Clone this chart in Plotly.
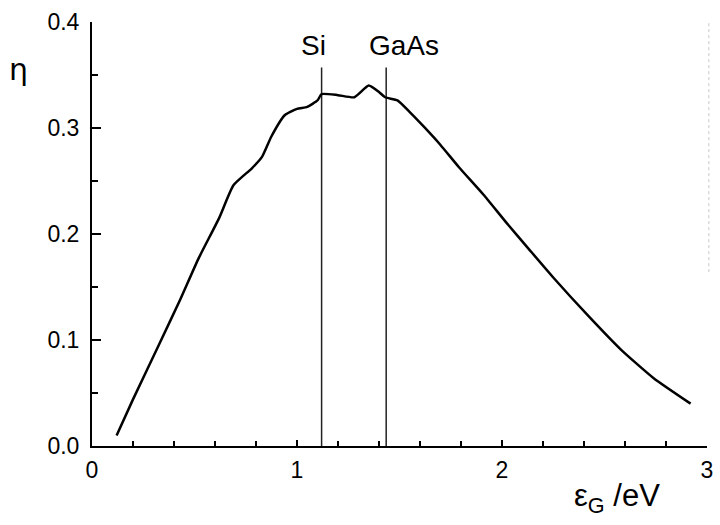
import plotly.graph_objects as go

# Efficiency curve eta vs band gap energy
eg = [0.12, 0.20, 0.33, 0.43, 0.52, 0.62, 0.69, 0.78, 0.83, 0.875, 0.94, 1.00, 1.05,
      1.10, 1.12, 1.20, 1.28, 1.35, 1.40, 1.43, 1.49, 1.55, 1.62, 1.70, 1.79, 1.91,
      2.02, 2.13, 2.25, 2.42, 2.58, 2.74, 2.92]
eta = [0.010, 0.044, 0.097, 0.138, 0.177, 0.215, 0.246, 0.262, 0.273, 0.292, 0.312, 0.318, 0.320,
       0.326, 0.332, 0.331, 0.329, 0.340, 0.334, 0.329, 0.326, 0.315, 0.301, 0.284, 0.263, 0.237,
       0.211, 0.186, 0.159, 0.123, 0.091, 0.064, 0.040]

# Marker lines for materials
materials = ["Si", "GaAs"]
material_gap = [1.12, 1.435]
marker_top = 0.357

x_ticks = [0, 1, 2, 3]
x_tick_text = ["0", "1", "2", "3"]
y_ticks = [0.0, 0.1, 0.2, 0.3, 0.4]
y_tick_text = ["0.0", "0.1", "0.2", "0.3", "0.4"]

fig = go.Figure()

for name, g in zip(materials, material_gap):
    fig.add_trace(go.Scatter(x=[g, g], y=[0, marker_top], mode="lines",
                             line=dict(color="#222222", width=1.5),
                             showlegend=False, hoverinfo="skip"))
    fig.add_annotation(x=g - (0.04 if name == "Si" else -0.085), y=(446 - 45) / 1060,
                       xref="x", yref="y", text=name, showarrow=False,
                       font=dict(family="Liberation Sans, Arial", size=28, color="black"),
                       xanchor="center", yanchor="middle")

fig.add_trace(go.Scatter(x=eg, y=eta, mode="lines",
                         line=dict(color="black", width=2.5, shape="spline", smoothing=0.5),
                         showlegend=False))

axis_font = dict(family="Liberation Sans, Arial", size=23, color="black")

fig.update_xaxes(range=[0, 3], tickvals=x_ticks, ticktext=x_tick_text,
                 showline=True, linecolor="black", linewidth=2, mirror=False,
                 ticks="inside", ticklen=6, tickwidth=1.5, tickcolor="black",
                 minor=dict(dtick=0.2, ticks="inside", ticklen=5, tickwidth=1.5, tickcolor="black"),
                 showgrid=False, zeroline=False, tickfont=axis_font, ticklabelstandoff=2)
fig.update_yaxes(range=[0, 0.4], tickvals=y_ticks, ticktext=y_tick_text,
                 showline=True, linecolor="black", linewidth=2, mirror=False,
                 ticks="inside", ticklen=9, tickwidth=1.5, tickcolor="black",
                 minor=dict(dtick=0.05, ticks="inside", ticklen=6, tickwidth=1.5, tickcolor="black"),
                 showgrid=False, zeroline=False, tickfont=axis_font, ticklabelstandoff=6)

# faint partial right frame remnant
fig.add_shape(type="line", xref="paper", yref="y", x0=1.003, x1=1.003, y0=0.164, y1=0.4,
              line=dict(color="#c8c8c8", width=1, dash="dot"))

fig.add_annotation(xref="paper", yref="paper", x=(18 - 92) / 621, y=(446 - 70) / 424,
                   text="η", showarrow=False, xanchor="center", yanchor="middle",
                   font=dict(family="DejaVu Sans, Liberation Sans", size=30, color="black"))
fig.add_annotation(xref="paper", yref="paper", x=(622 - 92) / 621, y=(446 - 498) / 424,
                   text="ε<sub>G</sub> /eV", showarrow=False, xanchor="center", yanchor="middle",
                   font=dict(family="Liberation Sans, Arial", size=31, color="black"))

fig.update_layout(width=720, height=525, plot_bgcolor="white", paper_bgcolor="white",
                  margin=dict(l=92, r=7, t=22, b=79), showlegend=False)

fig.write_html("out.html")
